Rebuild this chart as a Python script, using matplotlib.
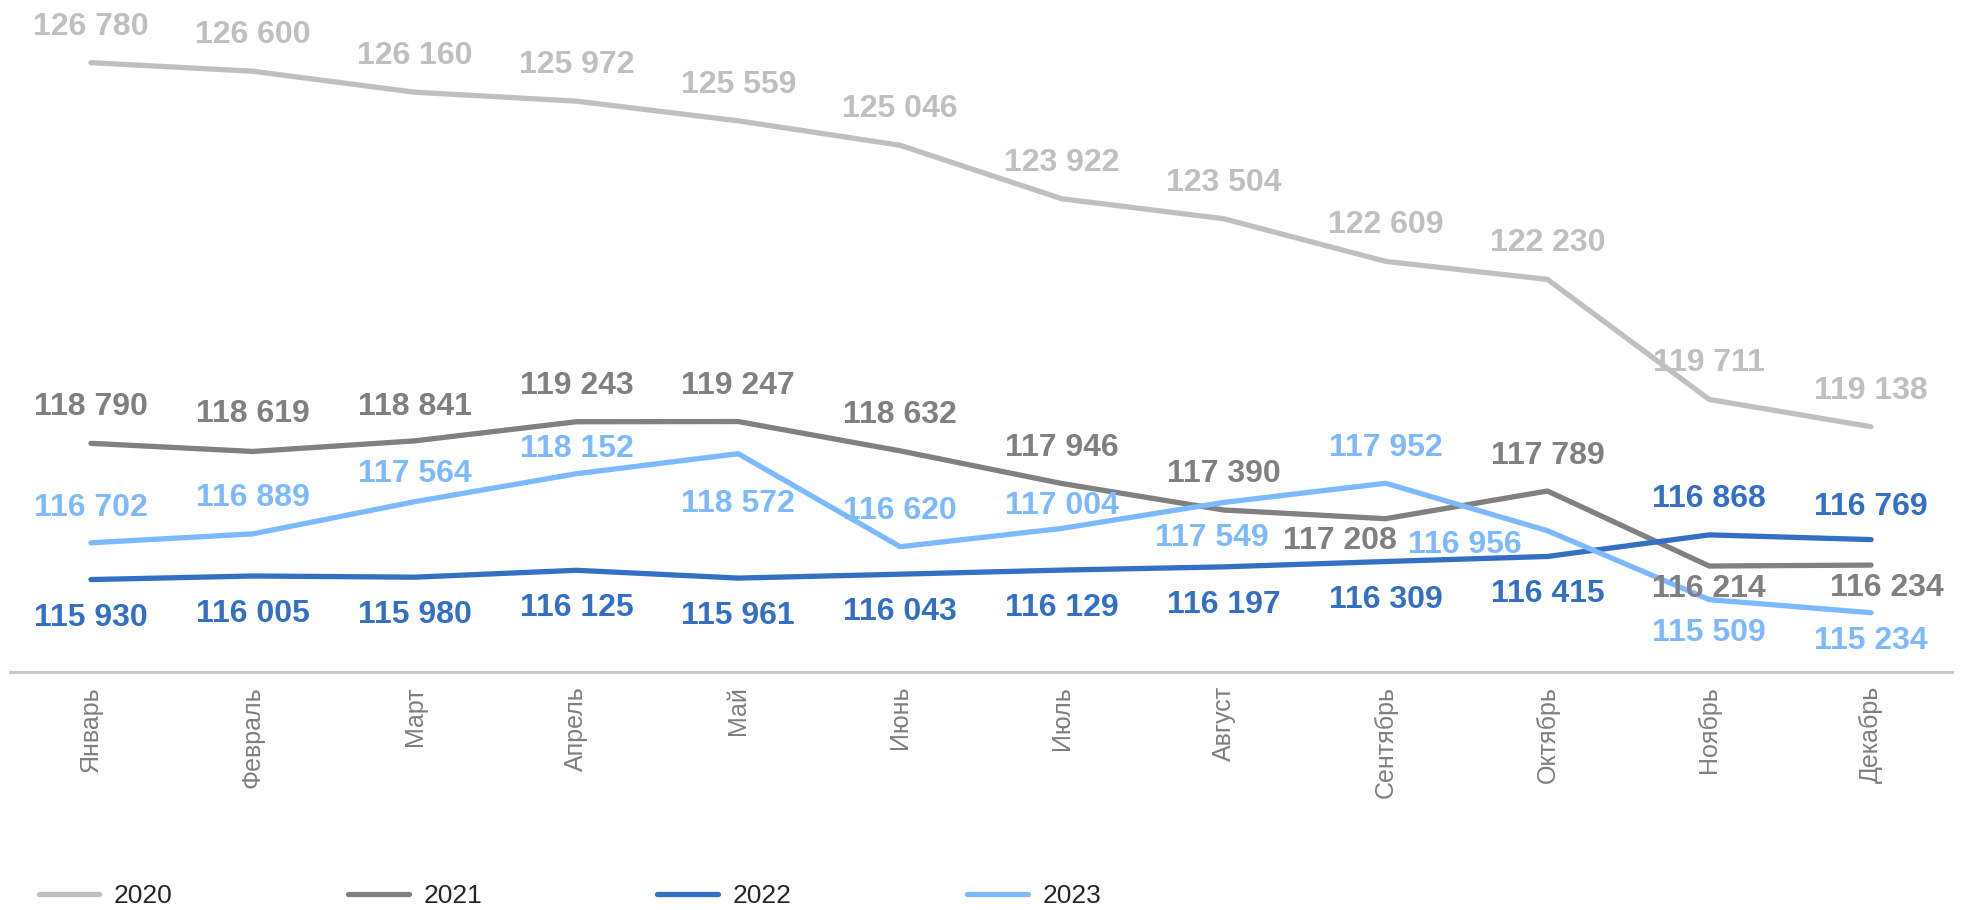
import matplotlib
matplotlib.use('Agg')
import matplotlib.pyplot as plt
import numpy as np

# data
months = ['Январь', 'Февраль', 'Март', 'Апрель', 'Май', 'Июнь',
          'Июль', 'Август', 'Сентябрь', 'Октябрь', 'Ноябрь', 'Декабрь']
years = ['2020', '2021', '2022', '2023']
v2020 = [126780, 126600, 126160, 125972, 125559, 125046, 123922, 123504, 122609, 122230, 119711, 119138]
v2021 = [118790, 118619, 118841, 119243, 119247, 118632, 117946, 117390, 117208, 117789, 116214, 116234]
v2022 = [115930, 116005, 115980, 116125, 115961, 116043, 116129, 116197, 116309, 116415, 116868, 116769]
v2023 = [116702, 116889, 117564, 118152, 118572, 116620, 117004, 117549, 117952, 116956, 115509, 115234]

colors = ['#BFBFBF', '#808080', '#3370C4', '#7DB9FF']

# label offsets in pixels (dx, dy), dy positive = up
off2020 = [(0, 36)] * 12
off2021 = [(0, 36), (0, 37), (0, 34), (0, 36), (0, 36), (0, 36), (0, 36), (0, 36),
           (-46, -22), (0, 35), (0, -23), (16, -23)]
off2022 = [(0, -38)] * 10 + [(0, 36), (0, 33)]
off2023 = [(0, 35), (0, 36), (0, 28), (0, 25), (0, -50), (0, 36), (0, 22), (-12, -36),
           (0, 35), (-83, -14), (0, -33), (0, -28)]

def fmt(v):
    return '{:,}'.format(v).replace(',', ' ')

def main():
    plt.rcParams['font.family'] = ['Liberation Sans', 'DejaVu Sans']
    fig = plt.figure(figsize=(19.62, 9.10), dpi=100)
    ax = fig.add_axes([10 / 1962, 1 - 672 / 910, 1942 / 1962, 672 / 910])
    x = np.arange(len(months))
    series = [v2020, v2021, v2022, v2023]
    offsets = [off2020, off2021, off2022, off2023]
    for vals, c, offs, name in zip(series, colors, offsets, years):
        ax.plot(x, vals, color=c, lw=3.8, solid_capstyle='round', label=name)
        for xi, v, (dx, dy) in zip(x, vals, offs):
            ax.annotate(fmt(v), (xi, v), xytext=(dx, dy), textcoords='offset pixels',
                        ha='center', va='center', fontsize=23, fontweight='bold', color=c)
    ax.set_xlim(-0.5, 11.5)
    ax.set_ylim(113990, 128095)
    ax.set_yticks([])
    ax.set_xticks(x)
    ax.set_xticklabels(months, rotation=90, fontsize=18, color='#7F7F7F')
    ax.tick_params(axis='x', length=0, pad=10)
    for s in ['top', 'right', 'left']:
        ax.spines[s].set_visible(False)
    ax.spines['bottom'].set_color('#C8C8C8')
    ax.spines['bottom'].set_linewidth(2.2)
    ax.patch.set_alpha(0)

    leg = fig.legend(loc='center left', bbox_to_anchor=(28 / 1962, 1 - 896 / 910), ncol=4,
                     frameon=False, fontsize=19, handlelength=2.3, handletextpad=0.55,
                     columnspacing=6.65, borderaxespad=0)
    for t in leg.get_texts():
        t.set_color('#262626')
    fig.savefig('out.png', dpi=100)

if __name__ == '__main__':
    main()
